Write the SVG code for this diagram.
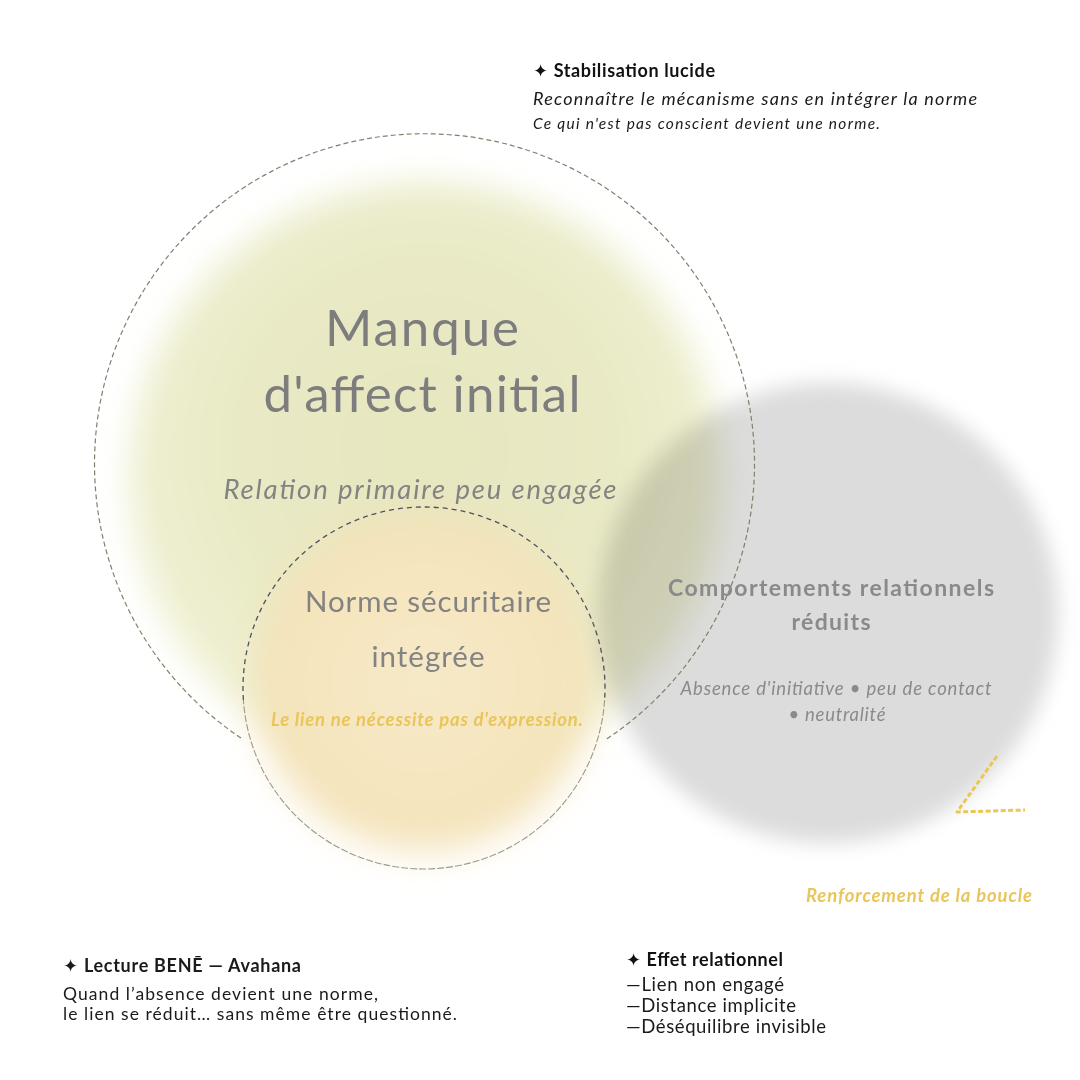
<svg xmlns="http://www.w3.org/2000/svg" width="1080" height="1080" viewBox="0 0 1080 1080">
  <defs>
    <filter id="blurL" x="-30%" y="-30%" width="160%" height="160%"><feGaussianBlur stdDeviation="16"/></filter>
    <filter id="blurM" x="-30%" y="-30%" width="160%" height="160%"><feGaussianBlur stdDeviation="18"/></filter>
    <filter id="blurG" x="-30%" y="-30%" width="160%" height="160%"><feGaussianBlur stdDeviation="10"/></filter>
    <radialGradient id="gGreen" cx="0.5" cy="0.45" r="0.5">
      <stop offset="0" stop-color="#e6e6bf"/>
      <stop offset="0.7" stop-color="#e9eac6"/>
      <stop offset="1" stop-color="#eff0d2"/>
    </radialGradient>
    <radialGradient id="gPeach" cx="0.5" cy="0.5" r="0.5">
      <stop offset="0" stop-color="#f6e9c8"/>
      <stop offset="0.8" stop-color="#f5e5bd"/>
      <stop offset="1" stop-color="#f3e0b4"/>
    </radialGradient>
  </defs>
  <style>
    text { font-family: Lato, "Open Sans", "DejaVu Sans", sans-serif; }
    .big { fill: #7d7d7d; }
    .gray { fill: #838383; }
    .yel { fill: #e9c55a; font-weight: 700; font-style: italic; }
    .head { fill: #111111; font-weight: 700; font-size: 18px; }
    .body { fill: #1a1a1a; }
    .it { font-style: italic; }
    .outline { fill: none; stroke: #80806c; stroke-width: 1.2; stroke-dasharray: 5 3; }
    .inner-top { fill: none; stroke: #4d5260; stroke-width: 1.3; stroke-dasharray: 5 4; }
    .inner-bot { fill: none; stroke: #9c9c84; stroke-width: 1.1; stroke-dasharray: 7 2; }
    .loop { fill: none; stroke: #ebc650; stroke-width: 3; stroke-dasharray: 5 2.5; stroke-linecap: butt; stroke-linejoin: round; }
  </style>

  <rect x="0" y="0" width="1080" height="1080" fill="#ffffff"/>

  <!-- Node: Manque d'affect initial -->
  <g id="node-manque">
    <circle cx="425" cy="478" r="296" fill="url(#gGreen)" filter="url(#blurL)"/>
  </g>

  <!-- Node: Norme sécuritaire intégrée (fill) -->
  <g id="node-norme-fill">
    <circle cx="424" cy="682" r="168" fill="url(#gPeach)" filter="url(#blurM)"/>
  </g>

  <!-- Node: Comportements relationnels réduits -->
  <g id="node-comportements">
    <circle cx="828" cy="613" r="230" fill="#dcdcdc" filter="url(#blurG)" style="mix-blend-mode:multiply"/>
  </g>

  <!-- Connectors / outlines -->
  <g id="connectors">
    <path class="outline" d="M 241 738 A 330 330 0 1 1 605 740"/>
    <path class="inner-top" d="M 243.4 700 A 181 181 0 1 1 604.6 700"/>
    <path class="inner-bot" d="M 604.6 700 A 181 181 0 0 1 243.4 700"/>
    <path class="loop" d="M 997 756 L 957 812 L 1025 810"/>
  </g>

  <!-- Texts of nodes -->
  <g id="label-manque">
    <text class="big" x="422" y="346" font-size="51" text-anchor="middle" textLength="194">Manque</text>
    <text class="big" x="422" y="412" font-size="51" text-anchor="middle" textLength="317">d'affect initial</text>
    <text class="gray it" x="420" y="499" font-size="27.5" text-anchor="middle" textLength="393">Relation primaire peu engagée</text>
  </g>

  <g id="label-norme">
    <text class="gray" x="428" y="612" font-size="29.5" text-anchor="middle" textLength="246">Norme sécuritaire</text>
    <text class="gray" x="428" y="667" font-size="29.5" text-anchor="middle" textLength="113">intégrée</text>
    <text class="yel" x="427" y="726" font-size="18.5" text-anchor="middle" textLength="312">Le lien ne nécessite pas d'expression.</text>
  </g>

  <g id="label-comportements">
    <text x="831" y="596" font-size="23" font-weight="700" fill="#8a8a8a" text-anchor="middle" textLength="326">Comportements relationnels</text>
    <text x="831" y="630" font-size="23" font-weight="700" fill="#8a8a8a" text-anchor="middle" textLength="79">réduits</text>
    <text class="it" x="836" y="695" font-size="18.5" fill="#8a8a8a" text-anchor="middle" textLength="311">Absence d'initiative • peu de contact</text>
    <text class="it" x="837" y="721" font-size="18.5" fill="#8a8a8a" text-anchor="middle" textLength="97">• neutralité</text>
  </g>

  <g id="label-boucle">
    <text class="yel" x="919" y="902" font-size="18.5" text-anchor="middle" textLength="226">Renforcement de la boucle</text>
  </g>

  <!-- Annotations -->
  <g id="note-stabilisation">
    <text class="head" x="533" y="77" textLength="182">✦ Stabilisation lucide</text>
    <text class="body it" x="533" y="105" font-size="18" textLength="444">Reconnaître le mécanisme sans en intégrer la norme</text>
    <text class="body it" x="533" y="129" font-size="15.5" textLength="347">Ce qui n'est pas conscient devient une norme.</text>
  </g>

  <g id="note-lecture">
    <text class="body" x="63" y="972" font-size="18" font-weight="700" fill="#111111" textLength="238">✦ Lecture BENĒ — Avahana</text>
    <text class="body" x="63" y="1000" font-size="17.5" textLength="315">Quand l’absence devient une norme,</text>
    <text class="body" x="63" y="1020" font-size="17.5" textLength="394">le lien se réduit… sans même être questionné.</text>
  </g>

  <g id="note-effet">
    <text class="head" x="626" y="966" textLength="157">✦ Effet relationnel</text>
    <text class="body" x="626" y="991" font-size="18.5" textLength="158">—Lien non engagé</text>
    <text class="body" x="626" y="1012" font-size="18.5" textLength="170">—Distance implicite</text>
    <text class="body" x="626" y="1033" font-size="18.5" textLength="200">—Déséquilibre invisible</text>
  </g>
</svg>
